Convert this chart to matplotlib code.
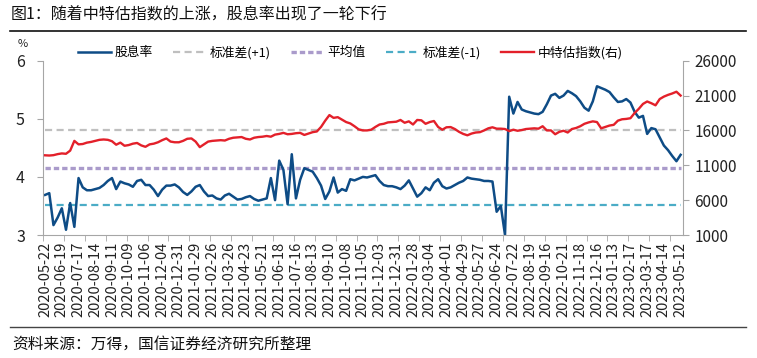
import matplotlib
matplotlib.use("Agg")
import matplotlib.pyplot as plt
from matplotlib.lines import Line2D
import numpy as np

plt.rcParams['font.family'] = ['Liberation Sans Narrow', 'Noto Sans CJK SC', 'DejaVu Sans']

# x-axis labels, one every 4 weekly points
date_labels = [
    "2020-05-22", "2020-06-19", "2020-07-17", "2020-08-14", "2020-09-11", "2020-10-09",
    "2020-11-06", "2020-12-04", "2020-12-31", "2021-01-29", "2021-02-26", "2021-03-26",
    "2021-04-23", "2021-05-21", "2021-06-18", "2021-07-16", "2021-08-13", "2021-09-10",
    "2021-10-08", "2021-11-05", "2021-12-03", "2021-12-31", "2022-01-28", "2022-03-04",
    "2022-04-01", "2022-04-29", "2022-05-27", "2022-06-24", "2022-07-22", "2022-08-19",
    "2022-09-16", "2022-10-21", "2022-11-18", "2022-12-16", "2023-01-13", "2023-02-17",
    "2023-03-17", "2023-04-14", "2023-05-12",
]

# 股息率 (%), weekly
dividend_yield = [
    3.69, 3.72, 3.17, 3.30, 3.46, 3.09, 3.55, 3.14, 3.98, 3.82,
    3.77, 3.77, 3.79, 3.81, 3.86, 3.93, 3.98, 3.79, 3.92, 3.89,
    3.87, 3.83, 3.93, 3.95, 3.86, 3.86, 3.78, 3.67, 3.78, 3.85,
    3.85, 3.87, 3.82, 3.74, 3.69, 3.75, 3.83, 3.86, 3.75, 3.67,
    3.68, 3.63, 3.61, 3.68, 3.71, 3.66, 3.61, 3.62, 3.65, 3.67,
    3.62, 3.59, 3.61, 3.63, 3.98, 3.60, 4.28, 4.12, 3.53, 4.39,
    3.63, 3.95, 4.15, 4.12, 4.09, 3.98, 3.85, 3.62, 3.75, 3.99,
    3.73, 3.79, 3.76, 3.96, 3.94, 3.97, 4.00, 3.99, 4.01, 4.03,
    3.93, 3.86, 3.84, 3.84, 3.82, 3.79, 3.85, 3.94, 3.80, 3.66,
    3.72, 3.82, 3.77, 3.90, 3.96, 3.84, 3.80, 3.82, 3.86, 3.90,
    3.93, 3.99, 3.97, 3.96, 3.95, 3.93, 3.93, 3.92, 3.40, 3.50,
    3.00, 5.38, 5.09, 5.29, 5.16, 5.13, 5.11, 5.09, 5.08, 5.12,
    5.25, 5.40, 5.43, 5.36, 5.40, 5.48, 5.44, 5.39, 5.30, 5.19,
    5.14, 5.30, 5.56, 5.53, 5.50, 5.46, 5.37, 5.29, 5.30, 5.34,
    5.28, 5.12, 5.02, 5.05, 4.74, 4.84, 4.82, 4.68, 4.54, 4.46,
    4.36, 4.27, 4.38,
]

# 中特估指数 (right axis)
csi_index = [
    12430, 12400, 12450, 12600, 12700, 12650, 13100, 14500, 14000, 14050,
    14250, 14350, 14500, 14650, 14700, 14650, 14450, 13950, 14250, 13800,
    13900, 14100, 14200, 13850, 13650, 14000, 14100, 14300, 14600, 14850,
    14400, 14300, 14300, 14500, 14800, 14850, 14400, 13600, 14000, 14400,
    14500, 14550, 14600, 14550, 14800, 14950, 15000, 15050, 14800, 14700,
    14950, 15050, 15100, 15200, 15100, 15400, 15500, 15650, 15450, 15500,
    15600, 15650, 15350, 15550, 15750, 15850, 16500, 17400, 18200, 17800,
    17900, 17550, 17200, 17000, 16600, 16150, 16000, 16000, 16100, 16500,
    16850, 16950, 17150, 17200, 17250, 17500, 17100, 17300, 16850, 17500,
    17450, 16950, 17200, 17350, 16500, 16100, 16450, 16480, 16200, 15800,
    15500, 15300, 15550, 15700, 15750, 16000, 16300, 16450, 16250, 16250,
    16200, 15900, 16100, 15950, 16050, 16200, 16250, 16300, 16250, 16600,
    16000, 16000, 15450, 15800, 15950, 15700, 16200, 16350, 16600, 16950,
    17150, 17300, 17200, 16300, 16500, 16700, 16800, 17400, 17600, 17650,
    17750, 18500, 19100, 19800, 20150, 19900, 19600, 20500, 20850, 21100,
    21300, 21550, 21000,
]

std_plus = 4.81
mean_val = 4.16
std_minus = 3.51

n = len(dividend_yield)
x = np.arange(n)

fig = plt.figure(figsize=(7.57, 3.58), dpi=100)
ax = fig.add_axes([43 / 757, 1 - 235 / 358, 639.7 / 757, 174.3 / 358])
ax2 = ax.twinx()

ax.plot(x, [std_plus] * n, color='#BFBFBF', lw=1.6, dashes=(3.2, 2.0), label='标准差(+1)')
ax.plot(x, [mean_val] * n, color='#AA9BCB', lw=2.4, dashes=(1.6, 0.9), dash_capstyle='butt', label='平均值')
ax.plot(x, [std_minus] * n, color='#4BACC6', lw=1.6, dashes=(3.2, 2.0), label='标准差(-1)')
l1, = ax.plot(x, dividend_yield, color='#0E4C86', lw=1.8, solid_joinstyle='round', label='股息率')
l2, = ax2.plot(x, csi_index, color='#E3202A', lw=1.7, solid_joinstyle='round', label='中特估指数(右)')

ax.set_xlim(-0.5, n - 0.5)
ax.set_ylim(3, 6)
ax.set_yticks([3, 4, 5, 6])
ax2.set_ylim(1000, 26000)
ax2.set_yticks(range(1000, 26001, 5000))

ax.set_xticks(np.arange(0, n, 4))
ax.set_xticklabels(date_labels, rotation=90)
ax.set_xticks(np.arange(-0.5, n, 5), minor=True)

spine_c = '#A6A6A6'
for a in (ax, ax2):
    a.spines['top'].set_visible(False)
    for s in ('left', 'right', 'bottom'):
        a.spines[s].set_color(spine_c)
ax.spines['right'].set_visible(False)
ax2.spines['left'].set_visible(False)
ax2.spines['bottom'].set_visible(False)

ax.tick_params(axis='x', which='major', length=0, pad=5, labelsize=10.5, colors='#222222')
ax.tick_params(axis='x', which='minor', length=4, color=spine_c)
ax.tick_params(axis='y', length=4, color=spine_c, pad=9, labelsize=11.5, labelcolor='#222222')
ax2.tick_params(axis='y', length=4, color=spine_c, pad=4.5, labelsize=11, labelcolor='#222222')

handles = [l1] + ax.get_lines()[:3] + [l2]
fig.legend(handles, [h.get_label() for h in handles], loc='center left',
           bbox_to_anchor=(78 / 757, 1 - 52.5 / 358), ncol=5, frameon=False,
           handlelength=2.6, handletextpad=0.25, columnspacing=1.6,
           borderpad=0, borderaxespad=0, prop={'family': ['Noto Sans CJK SC'], 'size': 9.2})

fig.text(23 / 757, 1 - 44 / 358, '%', ha='center', va='center', fontsize=8, color='#222222')
fig.text(11 / 757, 1 - 15.5 / 358, '图1：随着中特估指数的上涨，股息率出现了一轮下行',
         ha='left', va='center', fontsize=11.5, family=['Noto Sans CJK SC'],
         weight='medium', color='#111111')
fig.text(12 / 757, 1 - 344 / 358, '资料来源：万得，国信证券经济研究所整理',
         ha='left', va='center', fontsize=11.3, family=['Noto Sans CJK SC'], color='#111111')

fig.add_artist(Line2D([10 / 757, 746 / 757], [1 - 30.7 / 358] * 2, color='#111111', lw=1.2))
fig.add_artist(Line2D([10 / 757, 746 / 757], [1 - 326.5 / 358] * 2, color='#444444', lw=1.0))

fig.savefig('out.png', dpi=100)
